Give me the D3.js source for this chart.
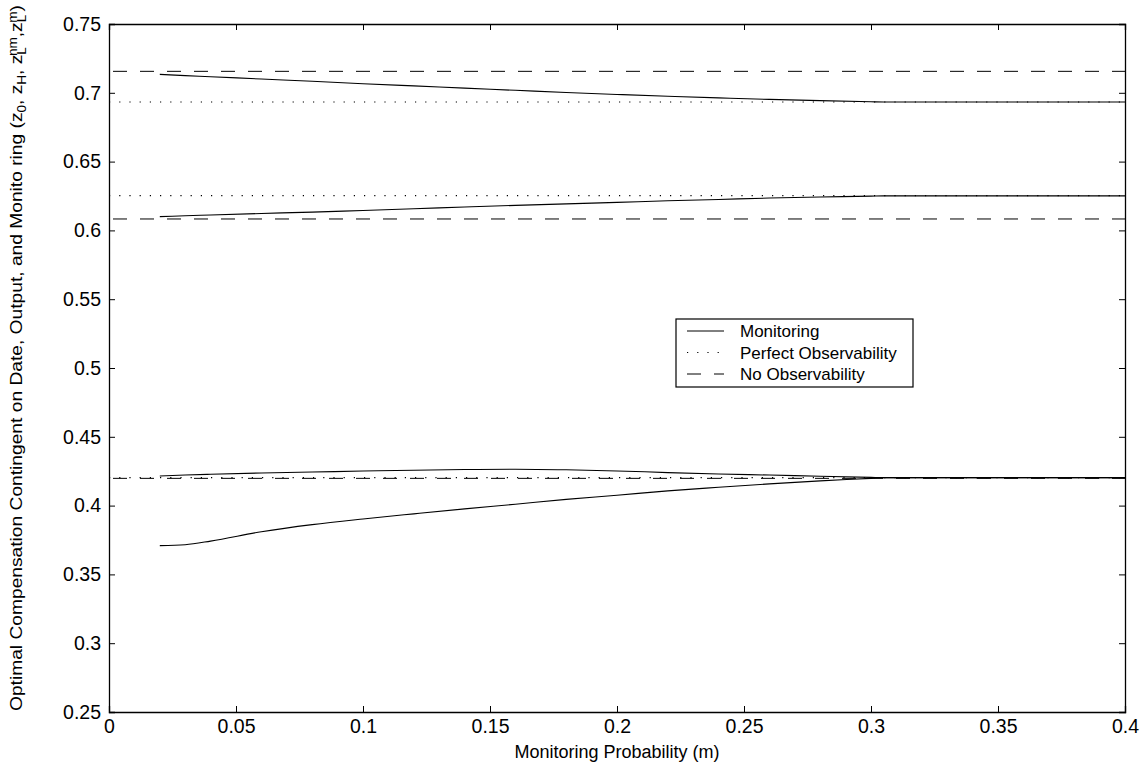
<!DOCTYPE html>
<html>
<head>
<meta charset="utf-8">
<script src="https://cdn.jsdelivr.net/npm/d3@7"></script>
<style>
  body { margin: 0; background: #fff; }
  text { font-family: "Liberation Sans", Arial, sans-serif; fill: #000; }
</style>
</head>
<body>
<div id="chart"></div>
<script>
// monitoring probability grid (m)
var mVals = [0.02, 0.03, 0.04, 0.06, 0.08, 0.10, 0.12, 0.14, 0.16, 0.18, 0.20, 0.22, 0.24, 0.26, 0.28, 0.30, 0.305, 0.32, 0.34, 0.36, 0.38, 0.40];

// monitoring curves
var zTop    = [0.7134, 0.7125, 0.7117, 0.7100, 0.7084, 0.7066, 0.7050, 0.7034, 0.7018, 0.7002, 0.6988, 0.6975, 0.6963, 0.6952, 0.6943, 0.6935, 0.6933, 0.6933, 0.6933, 0.6933, 0.6933, 0.6933];
var zMid    = [0.6100, 0.6106, 0.6112, 0.6123, 0.6133, 0.6145, 0.6157, 0.6170, 0.6182, 0.6193, 0.6204, 0.6215, 0.6225, 0.6235, 0.6243, 0.6249, 0.6251, 0.6251, 0.6251, 0.6251, 0.6251, 0.6251];
var zLowUp  = [0.4215, 0.4222, 0.4228, 0.4237, 0.4244, 0.4251, 0.4257, 0.4262, 0.4264, 0.4260, 0.4252, 0.4240, 0.4230, 0.4222, 0.4213, 0.4205, 0.4203, 0.4203, 0.4203, 0.4203, 0.4203, 0.4203];
var zLowDn  = [0.3709, 0.3716, 0.3742, 0.3810, 0.3862, 0.3903, 0.3940, 0.3976, 0.4010, 0.4045, 0.4075, 0.4107, 0.4133, 0.4158, 0.4180, 0.4198, 0.4203, 0.4203, 0.4203, 0.4203, 0.4203, 0.4203];

// benchmark levels
var perfectObs = [0.6933, 0.6252, 0.4203];
var noObs      = [0.7156, 0.6083, 0.4198];

var xTicks = [0, 0.05, 0.1, 0.15, 0.2, 0.25, 0.3, 0.35, 0.4];
var yTicks = [0.25, 0.3, 0.35, 0.4, 0.45, 0.5, 0.55, 0.6, 0.65, 0.7, 0.75];

var legendNames = ["Monitoring", "Perfect Observability", "No Observability"];

var W = 1148, H = 767;
var margin = { top: 24, right: 23, bottom: 55, left: 109 };
var width = W - margin.left - margin.right;   // 1016
var height = H - margin.top - margin.bottom;  // 688

var svg = d3.select("#chart").append("svg")
    .attr("width", W)
    .attr("height", H);

var g = svg.append("g")
    .attr("transform", "translate(" + margin.left + "," + margin.top + ")");

var x = d3.scaleLinear().domain([0, 0.4]).range([0, width]);
var y = d3.scaleLinear().domain([0.25, 0.75]).range([height, 0]);

var fmt = d => String(+d.toFixed(2));

// axes: ticks point inward, on all four sides
var xAx = g.append("g")
    .attr("transform", "translate(0," + height + ")")
    .call(d3.axisBottom(x).tickValues(xTicks).tickSize(-6).tickPadding(7).tickFormat(fmt));
g.append("g")
    .call(d3.axisTop(x).tickValues(xTicks).tickSize(-6).tickFormat(""));
var yAx = g.append("g")
    .call(d3.axisLeft(y).tickValues(yTicks).tickSize(-6).tickPadding(8).tickFormat(fmt));
g.append("g")
    .attr("transform", "translate(" + width + ",0)")
    .call(d3.axisRight(y).tickValues(yTicks).tickSize(-6).tickFormat(""));

xAx.attr("font-size", 19.5);
yAx.attr("font-size", 19.5);

g.selectAll(".domain").attr("stroke", "#000").attr("stroke-width", 1.3);
g.selectAll(".tick line").attr("stroke", "#000");

// horizontal benchmark lines
g.selectAll(".perfect")
    .data(perfectObs)
    .enter().append("line")
    .attr("x1", x(0)).attr("x2", x(0.4))
    .attr("y1", d => y(d)).attr("y2", d => y(d))
    .attr("stroke", "#000").attr("stroke-width", 1.2)
    .attr("stroke-dasharray", "1.2,9");

g.selectAll(".noobs")
    .data(noObs)
    .enter().append("line")
    .attr("x1", x(0)).attr("x2", x(0.4))
    .attr("y1", d => y(d)).attr("y2", d => y(d))
    .attr("stroke", "#000").attr("stroke-width", 1)
    .attr("stroke-dasharray", "14,13")
    .attr("stroke-dashoffset", -4);

// monitoring curves
var line = d3.line()
    .x((d, i) => x(mVals[i]))
    .y(d => y(d))
    .curve(d3.curveMonotoneX);

[zTop, zMid, zLowUp, zLowDn].forEach(s => {
    g.append("path")
        .datum(s)
        .attr("d", line)
        .attr("fill", "none")
        .attr("stroke", "#000")
        .attr("stroke-width", 1.1);
});

// legend
var lg = svg.append("g").attr("transform", "translate(676,319)");
lg.append("rect")
    .attr("width", 237).attr("height", 68)
    .attr("fill", "#fff").attr("stroke", "#000").attr("stroke-width", 1.2);
var dashes = [null, "1.2,9", "14,13"];
legendNames.forEach((name, i) => {
    var yy = 12 + i * 21.5;
    lg.append("line")
        .attr("x1", 11).attr("x2", 48)
        .attr("y1", yy).attr("y2", yy)
        .attr("stroke", "#000").attr("stroke-width", 1)
        .attr("stroke-dasharray", dashes[i]);
    lg.append("text")
        .attr("x", 64).attr("y", yy + 6)
        .style("font-size", "17px")
        .text(name);
});

// x label
svg.append("text")
    .attr("x", margin.left + width / 2)
    .attr("y", 758)
    .attr("text-anchor", "middle")
    .style("font-size", "18px")
    .text("Monitoring Probability (m)");

// y label with sub/superscripts
var yl = svg.append("text")
    .attr("transform", "translate(22," + (margin.top + height / 2 - 10) + ") rotate(-90)")
    .attr("text-anchor", "middle")
    .attr("textLength", 706)
    .attr("lengthAdjust", "spacingAndGlyphs")
    .style("font-size", "17px");
yl.append("tspan").text("Optimal Compensation Contingent on Date, Output, and Monito ring (z");
yl.append("tspan").attr("baseline-shift", "-30%").style("font-size", "12px").text("0");
yl.append("tspan").text(", z");
yl.append("tspan").attr("baseline-shift", "-30%").style("font-size", "12px").text("H");
yl.append("tspan").text(", z");
yl.append("tspan").attr("baseline-shift", "-30%").style("font-size", "12px").text("L");
yl.append("tspan").attr("dx", -8).attr("baseline-shift", "40%").style("font-size", "12px").text("nm");
yl.append("tspan").text(",z");
yl.append("tspan").attr("baseline-shift", "-30%").style("font-size", "12px").text("L");
yl.append("tspan").attr("dx", -7).attr("baseline-shift", "40%").style("font-size", "12px").text("m");
yl.append("tspan").text(")");
</script>
</body>
</html>
